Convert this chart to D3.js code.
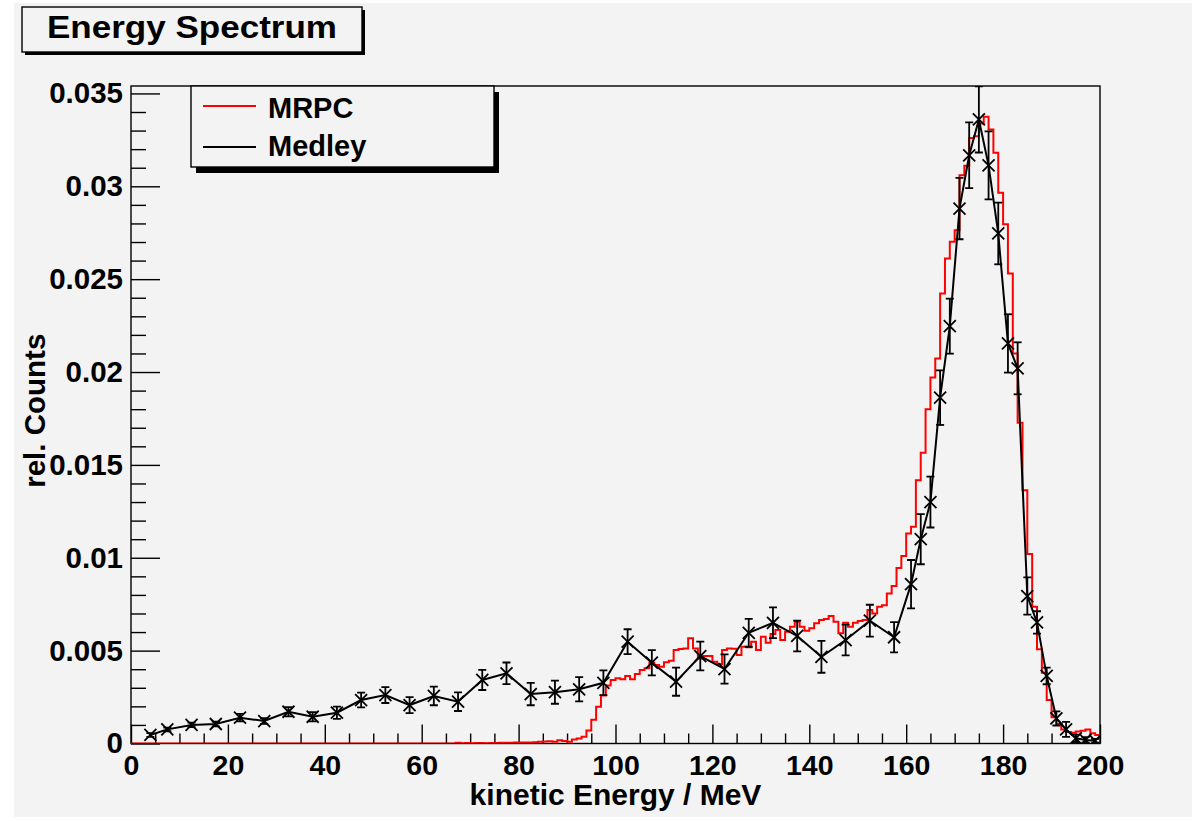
<!DOCTYPE html>
<html>
<head>
<meta charset="utf-8">
<script src="https://cdn.jsdelivr.net/npm/d3@7"></script>
<style>
html, body { margin: 0; padding: 0; background: #ffffff; }
svg { display: block; }
text { font-family: "Liberation Sans", Arial, Helvetica, sans-serif; font-weight: bold; fill: #000; }
</style>
</head>
<body>
<script>
// ---------------- DATA ----------------
const chartTitle = "Energy Spectrum";
const xAxisTitle = "kinetic Energy / MeV";
const yAxisTitle = "rel. Counts";
const seriesNames = ["MRPC", "Medley"];

const xDomain = [0, 200];
const yDomain = [0, 0.0354];
const xTickValues = [0, 20, 40, 60, 80, 100, 120, 140, 160, 180, 200];
const xTickLabels = ["0", "20", "40", "60", "80", "100", "120", "140", "160", "180", "200"];
const xMinorStep = 5;
const yTickValues = [0, 0.005, 0.01, 0.015, 0.02, 0.025, 0.03, 0.035];
const yTickLabels = ["0", "0.005", "0.01", "0.015", "0.02", "0.025", "0.03", "0.035"];
const yMinorStep = 0.001;

// MRPC histogram: 1 MeV bins, lower edges 0..199
const mrpcBinWidth = 1;
const mrpcCounts = [
  0,0,0,0,0,0,0,0,0,0,
  0,0,0,0,0,0,0,0,0,0,
  0,0,0,0,0,0,0,0,0,0,
  0,0,0,0,0,0,0,0,0,0,
  0,0,0,0,0,0,0,0,0,0,
  0,0,0,0,0,0,0,0,0,0,
  0,0,0,0,0,0,0,0.00004,0.00002,0.00003,
  0.00002,0.00003,0.00003,0.00002,0.00003,0.00003,0.00004,0.00004,0.00004,0.00005,
  0.00005,0.00006,0.00006,0.00007,0.0001,0.00011,0.00012,0.00009,0.00017,0.00014,
  0.0001,0.00021,0.00027,0.00037,0.0007,0.00128,0.00198,0.00258,0.00312,0.00342,
  0.00351,0.00346,0.00363,0.00346,0.00374,0.00396,0.00405,0.00435,0.00422,0.00413,
  0.00437,0.00446,0.00503,0.00509,0.00512,0.00566,0.00512,0.00458,0.00471,0.00471,
  0.0044,0.00428,0.00503,0.00512,0.0051,0.00476,0.00521,0.00518,0.00548,0.00503,
  0.00575,0.00543,0.00589,0.00611,0.00557,0.00602,0.00629,0.00656,0.00629,0.00607,
  0.0062,0.00647,0.00665,0.0067,0.00686,0.00656,0.00593,0.0065,0.00629,0.0065,
  0.00659,0.00665,0.00719,0.007,0.00736,0.00745,0.00808,0.00848,0.00945,0.01009,
  0.01131,0.01167,0.01418,0.01565,0.01799,0.0197,0.02073,0.02423,0.02611,0.02701,
  0.02764,0.0306,0.0311,0.0326,0.0327,0.03338,0.03374,0.03306,0.0318,0.02965,
  0.02796,0.0253,0.021,0.01727,0.01364,0.0102,0.00736,0.00507,0.00381,0.00234,
  0.00142,0.00105,0.00076,0.00062,0.00058,0.00064,0.00069,0.00076,0.00055,0.00046
];

// Medley: points with errors
const medleyEnergy = [4, 7.5, 12.5, 17.5, 22.5, 27.5, 32.5, 37.5, 42.5, 47.5,
  52.5, 57.5, 62.5, 67.5, 72.5, 77.5, 82.5, 87.5, 92.5, 97.5,
  102.5, 107.5, 112.5, 117.5, 122.5, 127.5, 132.5, 137.5, 142.5, 147.5,
  152.5, 157.5, 161, 163, 165, 167, 169, 171, 173, 175,
  177, 179, 181, 183, 185, 187, 189, 191, 193, 195, 197, 199];
const medleyCounts = [0.00046, 0.00076, 0.001, 0.00105, 0.00139, 0.00121, 0.00171, 0.00144, 0.00166, 0.00234,
  0.00261, 0.00207, 0.00256, 0.00225, 0.00342, 0.00378, 0.00266, 0.00276, 0.00292, 0.00327,
  0.00548, 0.00435, 0.00333, 0.00471, 0.00401, 0.00596, 0.0065, 0.00579, 0.00467, 0.00557,
  0.00661, 0.00572, 0.00858, 0.011, 0.013, 0.01862, 0.02247, 0.0288, 0.03167, 0.0336,
  0.03113, 0.02746, 0.02154, 0.0202, 0.00794, 0.00652, 0.00364, 0.00135, 0.00076, 0.00028, 0.00019, 0.00015];
const medleyErrors = [0.0001, 0.0001, 0.00012, 0.00013, 0.0002, 0.00015, 0.00025, 0.00025, 0.00033, 0.0004,
  0.00043, 0.00043, 0.0005, 0.0005, 0.00054, 0.00058, 0.0006, 0.00062, 0.00065, 0.00067,
  0.00067, 0.00068, 0.00076, 0.00077, 0.00079, 0.00075, 0.00083, 0.00083, 0.00086, 0.00083,
  0.00086, 0.00081, 0.0013, 0.00135, 0.00137, 0.00147, 0.00148, 0.00165, 0.00177, 0.00178,
  0.00183, 0.00166, 0.00157, 0.0014, 0.001, 0.0006, 0.00045, 0.00038, 0.0004, 0.0002, 0.00015, 0.0001];

// ---------------- LAYOUT ----------------
const W = 1204, H = 821;
const frame = { left: 131, right: 1100, top: 86, bottom: 743.5 };
const bg = "#f3f3f3";
const red = "#ff0000";

const svg = d3.select("body").append("svg").attr("width", W).attr("height", H);
svg.append("rect").attr("x", 14).attr("y", 3).attr("width", 1178).attr("height", 814).attr("fill", bg);

const x = d3.scaleLinear().domain(xDomain).range([frame.left, frame.right]);
const y = d3.scaleLinear().domain(yDomain).range([frame.bottom, frame.top]);

svg.append("defs").append("clipPath").attr("id", "plotclip")
  .append("rect").attr("x", frame.left).attr("y", frame.top)
  .attr("width", frame.right - frame.left).attr("height", frame.bottom - frame.top);

// Axes
const xMinor = d3.range(xDomain[0], xDomain[1] + 0.001, xMinorStep).filter(v => !xTickValues.includes(v));
const yMinor = d3.range(0, 0.0350001, yMinorStep).map(v => +v.toFixed(4)).filter(v => !yTickValues.some(t => Math.abs(t - v) < 1e-6));

const gx = svg.append("g").attr("transform", `translate(0,${frame.bottom})`)
  .call(d3.axisBottom(x).tickValues(xTickValues).tickSize(-19).tickPadding(11)
    .tickFormat((d, i) => xTickLabels[i]));
const gxm = svg.append("g").attr("transform", `translate(0,${frame.bottom})`)
  .call(d3.axisBottom(x).tickValues(xMinor).tickSize(-10).tickFormat(""));
const gy = svg.append("g").attr("transform", `translate(${frame.left},0)`)
  .call(d3.axisLeft(y).tickValues(yTickValues).tickSize(-29).tickPadding(8)
    .tickFormat((d, i) => yTickLabels[i]));
const gym = svg.append("g").attr("transform", `translate(${frame.left},0)`)
  .call(d3.axisLeft(y).tickValues(yMinor).tickSize(-15).tickFormat(""));

[gx, gxm, gy, gym].forEach(g => {
  g.select(".domain").remove();
  g.selectAll(".tick line").attr("stroke", "#000").attr("stroke-width", 1.4);
});
gx.selectAll("text").attr("font-size", 28.5).style("font-family", "Liberation Sans, Arial, sans-serif").style("font-weight", "bold").attr("fill", "#000");
gy.selectAll("text").attr("font-size", 29.5).style("font-family", "Liberation Sans, Arial, sans-serif").style("font-weight", "bold").attr("fill", "#000");

// Frame
svg.append("rect").attr("x", frame.left).attr("y", frame.top)
  .attr("width", frame.right - frame.left).attr("height", frame.bottom - frame.top)
  .attr("fill", "none").attr("stroke", "#000").attr("stroke-width", 1.4);

const plot = svg.append("g").attr("clip-path", "url(#plotclip)");

// MRPC histogram
const histPts = mrpcCounts.map((v, i) => [i * mrpcBinWidth, v]);
histPts.push([mrpcCounts.length * mrpcBinWidth, mrpcCounts[mrpcCounts.length - 1]]);
plot.append("path")
  .attr("d", d3.line().x(d => x(d[0])).y(d => y(d[1])).curve(d3.curveStepAfter)(histPts))
  .attr("fill", "none").attr("stroke", red).attr("stroke-width", 2);

// Medley
const medley = medleyEnergy.map((e, i) => ({ e, v: medleyCounts[i], err: medleyErrors[i] }));
plot.append("path")
  .attr("d", d3.line().x(d => x(d.e)).y(d => y(d.v))(medley))
  .attr("fill", "none").attr("stroke", "#000").attr("stroke-width", 2);

const eb = plot.append("g").attr("stroke", "#000").attr("stroke-width", 1.8);
const cap = 4;
medley.forEach(d => {
  const cx = x(d.e), yt = y(d.v + d.err), yb = y(d.v - d.err);
  eb.append("line").attr("x1", cx).attr("x2", cx).attr("y1", yt).attr("y2", yb);
  eb.append("line").attr("x1", cx - cap).attr("x2", cx + cap).attr("y1", yt).attr("y2", yt);
  eb.append("line").attr("x1", cx - cap).attr("x2", cx + cap).attr("y1", yb).attr("y2", yb);
});
const ms = 6;
const mk = plot.append("g").attr("stroke", "#000").attr("stroke-width", 1.8);
medley.forEach(d => {
  const cx = x(d.e), cy = y(d.v);
  mk.append("line").attr("x1", cx - ms).attr("x2", cx + ms).attr("y1", cy - ms).attr("y2", cy + ms);
  mk.append("line").attr("x1", cx - ms).attr("x2", cx + ms).attr("y1", cy + ms).attr("y2", cy - ms);
});

// Axis titles
svg.append("text").attr("x", (frame.left + frame.right) / 2).attr("y", 805)
  .attr("text-anchor", "middle").attr("font-size", 30).text(xAxisTitle);
svg.append("text").attr("transform", `translate(45,${(frame.top + frame.bottom) / 2 - 4}) rotate(-90)`)
  .attr("text-anchor", "middle").attr("font-size", 29.5).text(yAxisTitle);

// Title box
svg.append("rect").attr("x", 25).attr("y", 10).attr("width", 340).attr("height", 45).attr("fill", "#000");
svg.append("rect").attr("x", 22).attr("y", 7).attr("width", 340).attr("height", 45)
  .attr("fill", bg).attr("stroke", "#000").attr("stroke-width", 1.4);
svg.append("text").attr("x", 47).attr("y", 38).attr("font-size", 32)
  .attr("textLength", 290).attr("lengthAdjust", "spacingAndGlyphs").text(chartTitle);

// Legend
svg.append("rect").attr("x", 196).attr("y", 92).attr("width", 303).attr("height", 81).attr("fill", "#000");
svg.append("rect").attr("x", 191).attr("y", 86).attr("width", 303).attr("height", 81)
  .attr("fill", bg).attr("stroke", "#000").attr("stroke-width", 1.4);
const legendColors = [red, "#000"];
const legendLineY = [106, 147];
const legendTextY = [118, 156];
seriesNames.forEach((n, i) => {
  svg.append("line").attr("x1", 203).attr("x2", 256).attr("y1", legendLineY[i]).attr("y2", legendLineY[i])
    .attr("stroke", legendColors[i]).attr("stroke-width", 2);
  svg.append("text").attr("x", 268).attr("y", legendTextY[i]).attr("font-size", 29).text(n);
});
</script>
</body>
</html>
